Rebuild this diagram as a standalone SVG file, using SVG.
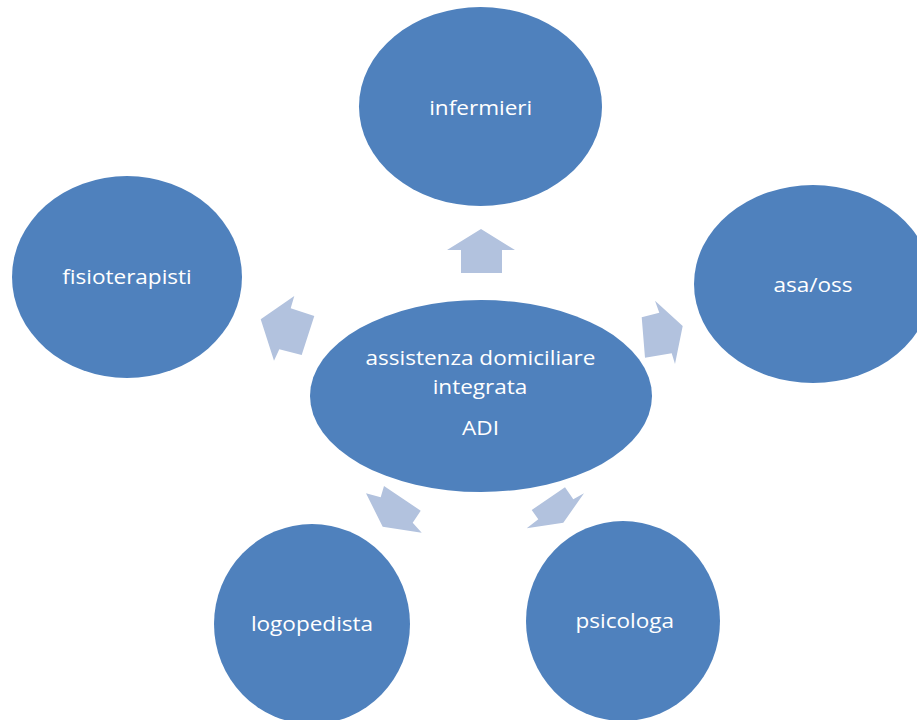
<svg xmlns="http://www.w3.org/2000/svg" width="917" height="720" viewBox="0 0 917 720">
<style>
.node{fill:#4F81BD;}
.arr{fill:#B2C2DE;}
.lbl{font-family:"Open Sans","Noto Sans",sans-serif;font-size:20.5px;fill:#FFFFFF;text-anchor:middle;}
</style>
<rect width="917" height="720" fill="#FFFFFF"/>
<g id="connectors">
<polygon class="arr" points="481,229 515,250 502,250 502,273 461,273 461,250 447,250"/>
<polygon class="arr" points="260.7,319.3 294.3,296 290.7,308.3 314.3,316 301.7,355 279.3,349.3 274,360.7"/>
<polygon class="arr" points="655,300.7 682.7,326 675,364 671.7,353.3 645,357.7 641.7,317.3 659.3,312.7"/>
<polygon class="arr" points="366,493.3 380.7,497.3 384,486 420.7,510.7 412.7,522.7 421.7,532.7 382.7,526.7"/>
<polygon class="arr" points="565,487.3 573.3,499.3 584,493.3 563.3,522.7 526.7,528.3 538.3,519.3 531.7,510"/>
</g>
<g id="center">
<ellipse class="node" cx="481" cy="396" rx="171" ry="96"/>
<text class="lbl" transform="translate(480.5,365) scale(1.1,1)">assistenza domiciliare</text>
<text class="lbl" transform="translate(480,394) scale(1.1,1)">integrata</text>
<text class="lbl" transform="translate(480.5,435) scale(1.1,1)">ADI</text>
</g>
<g id="infermieri">
<ellipse class="node" cx="480.5" cy="106.5" rx="121.5" ry="99.5"/>
<text class="lbl" transform="translate(480.7,115) scale(1.1,1)">infermieri</text>
</g>
<g id="fisioterapisti">
<ellipse class="node" cx="127" cy="277" rx="115" ry="101"/>
<text class="lbl" transform="translate(127,284) scale(1.1,1)">fisioterapisti</text>
</g>
<g id="asaoss">
<ellipse class="node" cx="813" cy="284" rx="119" ry="99"/>
<text class="lbl" transform="translate(813,292) scale(1.1,1)">asa/oss</text>
</g>
<g id="logopedista">
<ellipse class="node" cx="312" cy="624" rx="98" ry="100"/>
<text class="lbl" transform="translate(312,631) scale(1.1,1)">logopedista</text>
</g>
<g id="psicologa">
<ellipse class="node" cx="623" cy="621" rx="97" ry="100"/>
<text class="lbl" transform="translate(624.7,628) scale(1.1,1)">psicologa</text>
</g>
</svg>
